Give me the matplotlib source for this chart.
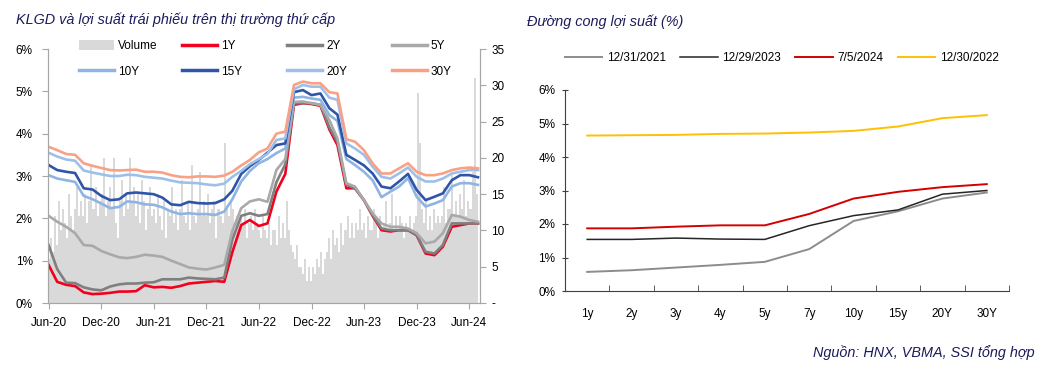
import matplotlib
matplotlib.use("Agg")
import matplotlib.pyplot as plt
from matplotlib.patches import Patch
from matplotlib.lines import Line2D
import pandas as pd
import numpy as np

plt.rcParams['font.family'] = ['Liberation Sans', 'DejaVu Sans']

# ---------------- Left chart data ----------------
yield_start = "2020-06-01"
y30 = [3.69, 3.61, 3.52, 3.50, 3.30, 3.24, 3.19, 3.14, 3.13, 3.14, 3.15, 3.10, 3.10, 3.08, 3.02, 2.98, 2.97,
       2.99, 2.99, 2.98, 3.01, 3.10, 3.25, 3.38, 3.56, 3.65, 4.00, 4.05, 5.15, 5.23, 5.19, 5.19, 4.98, 4.95,
       3.87, 3.81, 3.61, 3.30, 3.06, 3.06, 3.18, 3.30, 3.10, 3.02, 3.02, 3.06, 3.14, 3.18, 3.20, 3.18]
y20 = [3.55, 3.46, 3.39, 3.36, 3.13, 3.08, 3.04, 3.00, 3.00, 3.03, 3.02, 2.98, 2.96, 2.94, 2.89, 2.85, 2.84,
       2.83, 2.80, 2.78, 2.82, 2.98, 3.12, 3.28, 3.40, 3.52, 3.85, 3.89, 5.05, 5.15, 5.11, 5.11, 4.85, 4.80,
       3.77, 3.65, 3.50, 3.22, 2.98, 2.94, 3.06, 3.20, 2.98, 2.87, 2.87, 2.94, 3.06, 3.10, 3.14, 3.14]
y15 = [3.26, 3.14, 3.10, 3.07, 2.71, 2.68, 2.53, 2.43, 2.45, 2.59, 2.61, 2.59, 2.57, 2.49, 2.33, 2.31, 2.39,
       2.36, 2.35, 2.36, 2.45, 2.65, 3.05, 3.23, 3.38, 3.55, 3.73, 3.77, 4.98, 5.03, 4.91, 4.95, 4.60, 4.45,
       3.50, 3.38, 3.25, 3.06, 2.75, 2.71, 2.87, 3.05, 2.67, 2.43, 2.51, 2.59, 2.90, 3.02, 3.02, 2.97]
y10 = [3.02, 2.94, 2.90, 2.86, 2.53, 2.45, 2.35, 2.24, 2.27, 2.40, 2.38, 2.33, 2.32, 2.26, 2.16, 2.10, 2.12,
       2.10, 2.10, 2.08, 2.16, 2.45, 2.87, 3.12, 3.30, 3.40, 3.54, 3.65, 4.85, 4.87, 4.83, 4.80, 4.44, 4.30,
       3.40, 3.26, 3.10, 2.90, 2.50, 2.63, 2.75, 2.95, 2.51, 2.28, 2.35, 2.43, 2.75, 2.83, 2.83, 2.79]
y5 = [2.06, 1.92, 1.80, 1.65, 1.37, 1.35, 1.23, 1.15, 1.08, 1.06, 1.09, 1.14, 1.12, 1.09, 1.00, 0.92, 0.84,
      0.81, 0.79, 0.84, 0.90, 1.70, 2.24, 2.40, 2.45, 2.39, 3.14, 3.40, 4.75, 4.76, 4.72, 4.68, 4.32, 3.89,
      2.83, 2.75, 2.43, 2.12, 1.88, 1.80, 1.80, 1.76, 1.65, 1.41, 1.45, 1.65, 2.08, 2.04, 1.96, 1.92]
y2 = [1.37, 0.80, 0.48, 0.47, 0.37, 0.32, 0.30, 0.39, 0.44, 0.46, 0.46, 0.48, 0.49, 0.56, 0.56, 0.56, 0.60,
      0.58, 0.57, 0.56, 0.60, 1.50, 2.06, 2.12, 2.06, 2.10, 2.85, 3.28, 4.72, 4.72, 4.72, 4.68, 4.15, 3.81,
      2.79, 2.71, 2.43, 2.08, 1.76, 1.72, 1.72, 1.72, 1.61, 1.21, 1.17, 1.37, 1.88, 1.88, 1.88, 1.88]
y1 = [0.90, 0.50, 0.43, 0.40, 0.25, 0.21, 0.22, 0.24, 0.27, 0.27, 0.28, 0.42, 0.37, 0.38, 0.36, 0.40, 0.46,
      0.48, 0.50, 0.52, 0.50, 1.20, 1.84, 1.96, 1.82, 1.88, 2.63, 3.05, 4.68, 4.72, 4.70, 4.66, 4.10, 3.73,
      2.71, 2.71, 2.43, 2.06, 1.72, 1.69, 1.72, 1.72, 1.60, 1.17, 1.13, 1.33, 1.80, 1.84, 1.88, 1.88]

volume_start = "2020-06-03"
volume = [
    6, 9, 7, 12,  8, 14, 10, 13,  11, 9, 15, 12, 10,  13, 16, 12, 14,  12, 15, 11, 14,
    19, 13, 16, 12, 14,  15, 20, 12, 14,  16, 13, 20, 11,  9, 14, 17, 12, 15,  13, 20, 14, 16,
    12, 15, 11, 17,  14, 10, 13, 16, 12,  13, 11, 15, 12,  10, 14, 9, 13,  12, 16, 11, 13, 10,
    13, 17, 12, 11,  14, 10, 19, 12,  11, 13, 18, 12, 14,  12, 15, 11, 13,  14, 9, 13, 12,
    11, 22, 13, 12, 14,  13, 10, 12, 11,  12, 11, 13, 9,  11, 12, 10, 13, 11,  10, 9, 12, 10,
    9, 11, 8, 10,  10, 8, 12, 9, 11,  9, 14, 10, 8,  7, 6, 8, 5,  5, 4, 6, 3, 5,  3, 5, 4, 6,
    5, 7, 4, 6,  7, 9, 6, 10, 8,  9, 7, 11, 8,  10, 12, 9, 11,  9, 11, 10, 13, 10,  11, 9, 12, 10,
    10, 13, 11, 9,  12, 10, 11, 14, 10,  11, 15, 10, 12,  10, 12, 11, 9,  11, 10, 12, 10, 11,
    12, 29, 22, 13,  11, 14, 10, 12,  10, 13, 11, 12, 11,  12, 16, 11, 13,  13, 18, 12, 14,
    12, 15, 13, 17, 12,  14, 13, 18, 31,  15]

series_labels = ["1Y", "2Y", "5Y", "10Y", "15Y", "20Y", "30Y"]
x_tick_labels = ["Jun-20", "Dec-20", "Jun-21", "Dec-21", "Jun-22", "Dec-22", "Jun-23", "Dec-23", "Jun-24"]
x_tick_dates = ["2020-06-01", "2020-12-01", "2021-06-01", "2021-12-01", "2022-06-01", "2022-12-01",
                "2023-06-01", "2023-12-01", "2024-06-01"]

# ---------------- Right chart data ----------------
tenors = ["1y", "2y", "3y", "4y", "5y", "7y", "10y", "15y", "20Y", "30Y"]
curve_labels = ["12/31/2021", "12/29/2023", "7/5/2024", "12/30/2022"]
c_2021 = [0.57, 0.62, 0.70, 0.78, 0.87, 1.25, 2.09, 2.38, 2.76, 2.94]
c_2023 = [1.54, 1.54, 1.58, 1.55, 1.54, 1.95, 2.25, 2.42, 2.89, 3.00]
c_2024 = [1.87, 1.87, 1.92, 1.96, 1.96, 2.30, 2.76, 2.96, 3.10, 3.19]
c_2022 = [4.64, 4.65, 4.66, 4.69, 4.70, 4.73, 4.78, 4.91, 5.16, 5.25]

# ---------------- Figure ----------------
W, H = 1041, 369
fig = plt.figure(figsize=(W / 100, H / 100), dpi=100)

def fx(px):
    return px / W

def fy(py):
    return 1 - py / H

navy = "#1c1c5a"
spine_gray = "#a6a6a6"
fs = 8.5

# Left chart axes: volume (right axis) underneath, yields on top
axv = fig.add_axes([fx(48), fy(303), fx(480) - fx(48), fy(49) - fy(303)])
axl = axv.twinx()

ydates = pd.date_range(yield_start, periods=len(y30), freq="MS")
vdates = pd.date_range(volume_start, periods=len(volume), freq="7D")

axv.bar(vdates, volume, width=7.0, color="#d9d9d9", linewidth=0, align="center")
axv.set_ylim(0, 35)
axv.set_yticks(range(0, 36, 5))
axv.set_yticklabels(["-"] + [str(v) for v in range(5, 36, 5)])
axv.yaxis.tick_right()

colors = {"1Y": "#f2001e", "2Y": "#7f7f7f", "5Y": "#a9a9a9", "10Y": "#8fb4e3",
          "15Y": "#2f55a8", "20Y": "#9cc0ea", "30Y": "#f9a184"}
data = {"1Y": y1, "2Y": y2, "5Y": y5, "10Y": y10, "15Y": y15, "20Y": y20, "30Y": y30}
for lab in series_labels:
    axl.plot(ydates, data[lab], color=colors[lab], lw=1.9, solid_joinstyle="round")

axl.set_ylim(0, 6)
axl.set_yticks(range(0, 7))
axl.set_yticklabels([f"{v}%" for v in range(0, 7)])
axl.yaxis.tick_left()
axl.yaxis.set_label_position("left")
axl.patch.set_visible(False)

xlo = pd.Timestamp("2020-05-30")
xhi = pd.Timestamp("2024-07-08")
for a in (axv, axl):
    a.set_xlim(xlo, xhi)
    for s in a.spines.values():
        s.set_color(spine_gray)
    a.spines["top"].set_visible(False)

axv.set_xticks(pd.to_datetime(x_tick_dates))
axv.set_xticklabels(x_tick_labels)
axv.tick_params(axis="x", length=4, color=spine_gray, pad=6, labelsize=fs)
axv.tick_params(axis="y", length=4, color=spine_gray, pad=4, labelsize=fs, right=True, left=False,
                labelright=True, labelleft=False)
axl.tick_params(axis="y", length=4, color=spine_gray, pad=7, labelsize=fs, left=True, right=False,
                labelleft=True, labelright=False)
axl.tick_params(axis="x", bottom=False, labelbottom=False)

# legend for left chart: 4 columns with equal spacing
col_x = [80, 183, 288, 393]
cols = [
    [Patch(facecolor="#d9d9d9", edgecolor="none"), Line2D([], [], color=colors["10Y"], lw=2.5)],
    [Line2D([], [], color=colors["1Y"], lw=2.5), Line2D([], [], color=colors["15Y"], lw=2.5)],
    [Line2D([], [], color=colors["2Y"], lw=2.5), Line2D([], [], color=colors["20Y"], lw=2.5)],
    [Line2D([], [], color=colors["5Y"], lw=2.5), Line2D([], [], color=colors["30Y"], lw=2.5)],
]
col_labels = [["Volume", "10Y"], ["1Y", "15Y"], ["2Y", "20Y"], ["5Y", "30Y"]]
for cx, hs, ls in zip(col_x, cols, col_labels):
    fig.legend(hs, ls, loc="upper left", bbox_to_anchor=(fx(cx - 1), fy(40)),
               frameon=False, fontsize=fs, handlelength=3.0, handleheight=0.9,
               handletextpad=0.3, labelspacing=1.15, borderpad=0, borderaxespad=0)

fig.text(fx(16), fy(20), "KLGD và lợi suất trái phiếu trên thị trường thứ cấp", style="italic",
         color=navy, fontsize=10.4, va="center", ha="left")

# ---------------- Right chart ----------------
axr = fig.add_axes([fx(565), fy(291), fx(1009) - fx(565), fy(90) - fy(291)])
xpos = np.arange(len(tenors))
axr.plot(xpos, c_2021, color="#8c8c8c", lw=1.4, label=curve_labels[0])
axr.plot(xpos, c_2023, color="#262626", lw=1.1, label=curve_labels[1])
axr.plot(xpos, c_2024, color="#d40000", lw=1.4, label=curve_labels[2])
axr.plot(xpos, c_2022, color="#ffc000", lw=1.4, label=curve_labels[3])
axr.set_xlim(-0.5, len(tenors) - 0.5)
axr.set_ylim(0, 6)
axr.set_yticks(range(0, 7))
axr.set_yticklabels([f"{v}%" for v in range(0, 7)])
axr.set_xticks(xpos)
axr.set_xticklabels(tenors)
axr.set_xticks(np.arange(-0.5, len(tenors)), minor=True)
axr.tick_params(axis="x", which="major", length=0, pad=12, labelsize=fs)
axr.tick_params(axis="x", which="minor", length=4, direction="in", color="#404040")
axr.tick_params(axis="y", length=4, direction="inout", color="#404040", pad=5, labelsize=fs)
for s in ("top", "right"):
    axr.spines[s].set_visible(False)
axr.spines["left"].set_color("#404040")
axr.spines["bottom"].set_color("#404040")
axr.legend(loc="center left", bbox_to_anchor=(fx(565), fy(58)), bbox_transform=fig.transFigure,
           ncol=4, frameon=False, fontsize=8.5, handlelength=3.15, handletextpad=0.42,
           columnspacing=1.2, borderpad=0, borderaxespad=0)

fig.text(fx(527), fy(22), "Đường cong lợi suất (%)", style="italic", color=navy, fontsize=10.4,
         va="center", ha="left")
fig.text(fx(1035), fy(353), "Nguồn: HNX, VBMA, SSI tổng hợp", style="italic", color=navy,
         fontsize=10.4, va="center", ha="right")

fig.savefig("out.png", dpi=100)
